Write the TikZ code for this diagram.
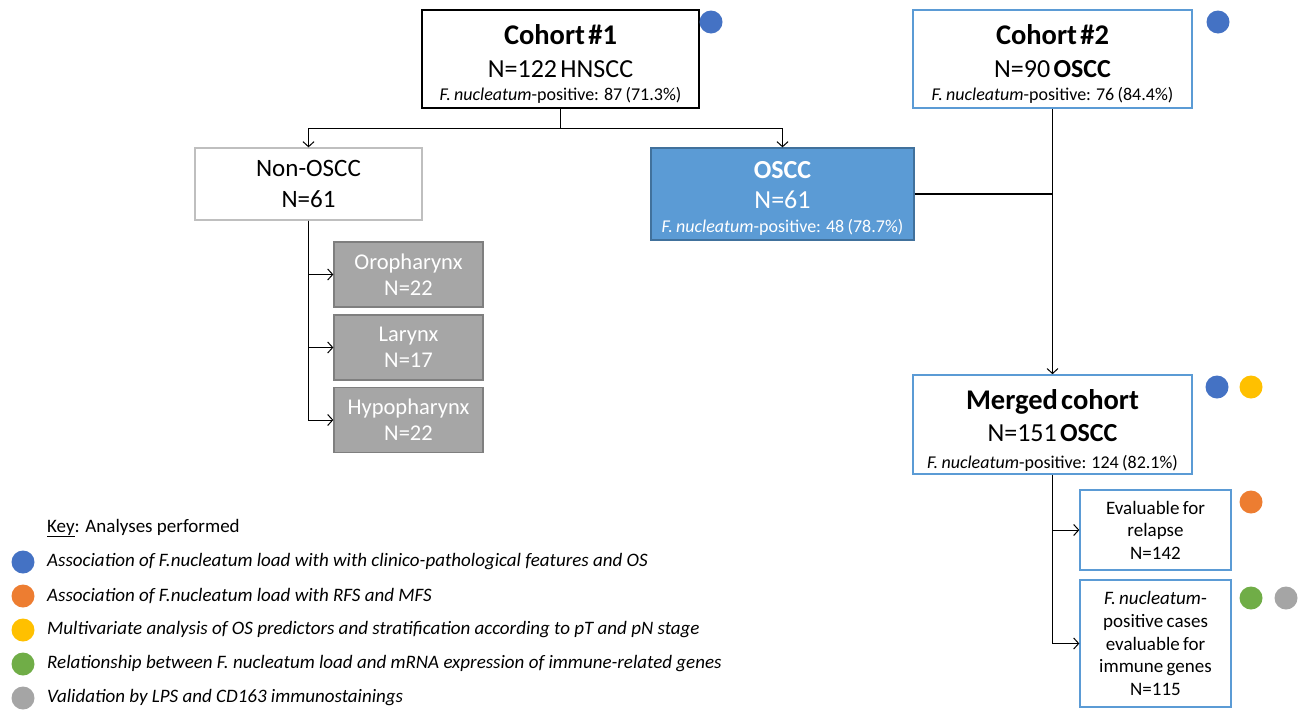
\documentclass[tikz,border=0pt]{standalone}
\usepackage{fontspec}
\setmainfont{Carlito}
\usetikzlibrary{arrows.meta}
\definecolor{dotblue}{HTML}{4472C4}
\definecolor{dotorange}{HTML}{ED7D31}
\definecolor{dotyellow}{HTML}{FFC000}
\definecolor{dotgreen}{HTML}{70AD47}
\definecolor{dotgray}{HTML}{A5A5A5}
\definecolor{lblue}{HTML}{5B9BD5}
\definecolor{oscfill}{HTML}{5B9BD5}
\definecolor{oscdraw}{HTML}{41719C}
\definecolor{greyfill}{HTML}{A6A6A6}
\definecolor{greydraw}{HTML}{7F7F7F}
\definecolor{nongrey}{HTML}{BFBFBF}
\begin{document}
\begin{tikzpicture}[x=1pt,y=-1pt,
  box/.style 2 args={draw, align=center, inner xsep=0pt, inner ysep=0pt,
    text width=#1, minimum height=#2},
  arr/.style={line width=1pt, -{Straight Barb[length=5pt,width=11pt,line width=1pt]}},
  ln/.style={line width=1pt},
  dot/.style={circle, inner sep=0pt, minimum size=23pt},
  keytext/.style={anchor=west, inner sep=0pt, font=\fontsize{19}{22}\selectfont\itshape}
]
\useasboundingbox (0,0) rectangle (1306,710);

% main boxes
\node[box={277pt}{98pt}, line width=1.6pt] (c1) at (560.5,59) {%
  {\fontsize{28.5}{30}\selectfont\bfseries \rule{0pt}{30pt}Cohort \#1\par}%
  {\fontsize{26}{33}\selectfont N=122 HNSCC\par}%
  {\fontsize{18}{23}\selectfont \textit{F. nucleatum}-positive: 87 (71.3\%)\par}};
\node[box={279pt}{98pt}, draw=lblue, line width=1.3pt] (c2) at (1052.5,59) {%
  {\fontsize{28.5}{30}\selectfont\bfseries \rule{0pt}{30pt}Cohort \#2\par}%
  {\fontsize{26}{33}\selectfont N=90 \textbf{OSCC}\par}%
  {\fontsize{18}{23}\selectfont \textit{F. nucleatum}-positive: 76 (84.4\%)\par}};
\node[box={227pt}{72pt}, draw=nongrey, line width=1.3pt] (non) at (308.5,184) {%
  {\fontsize{25}{27}\selectfont Non-OSCC\par}%
  {\fontsize{25}{31}\selectfont N=61\par}};
\node[box={263pt}{92pt}, draw=oscdraw, fill=oscfill, line width=1.3pt, text=white] (oscc) at (782.5,194) {%
  {\fontsize{26}{28}\selectfont\bfseries \rule{0pt}{26pt}OSCC\par}%
  {\fontsize{26}{30}\selectfont N=61\par}%
  {\fontsize{18}{24}\selectfont \textit{F. nucleatum}-positive: 48 (78.7\%)\par}};
\node[box={149pt}{65pt}, draw=greydraw, fill=greyfill, line width=1.3pt, text=white] (oro) at (408.5,274.5) {%
  {\fontsize{22.5}{24}\selectfont Oropharynx\par}%
  {\fontsize{22.5}{26}\selectfont N=22\par}};
\node[box={149pt}{65pt}, draw=greydraw, fill=greyfill, line width=1.3pt, text=white] (lar) at (408.5,347.5) {%
  {\fontsize{22.5}{24}\selectfont Larynx\par}%
  {\fontsize{22.5}{26}\selectfont N=17\par}};
\node[box={149pt}{65pt}, draw=greydraw, fill=greyfill, line width=1.3pt, text=white] (hyp) at (408.5,420) {%
  {\fontsize{22.5}{24}\selectfont Hypopharynx\par}%
  {\fontsize{22.5}{26}\selectfont N=22\par}};
\node[box={279pt}{99pt}, draw=lblue, line width=1.6pt] (mer) at (1052.5,424.5) {%
  {\fontsize{28.5}{30}\selectfont\bfseries \rule{0pt}{31pt}Merged cohort\par}%
  {\fontsize{26}{32}\selectfont N=151 \textbf{OSCC}\par}%
  {\fontsize{18}{27}\selectfont \textit{F. nucleatum}-positive: 124 (82.1\%)\par}};
\node[box={151pt}{80pt}, draw=lblue, line width=1.3pt] (eva) at (1155.5,530) {%
  {\fontsize{19}{22.5}\selectfont Evaluable for\par relapse\par N=142\par}};
\node[box={151pt}{127pt}, draw=lblue, line width=1.3pt] (fnu) at (1155.5,643.5) {%
  {\fontsize{19}{22.7}\selectfont \textit{F. nucleatum}-\par positive cases\par evaluable for\par immune genes\par N=115\par}};

% connectors
\coordinate (j1) at (c1.south |- 0,128);
\draw[ln] (c1.south) -- (j1);
\draw[arr] (j1) -| (non.north);
\draw[arr] (j1) -| (oscc.north);
\draw[arr] (non.south) |- (oro.west);
\draw[arr] (non.south) |- (lar.west);
\draw[arr] (non.south) |- (hyp.west);
\draw[line width=2pt] (oscc.east) -- (oscc.east -| c2.south);
\draw[arr] (c2.south) -- (mer.north);
\draw[arr] (mer.south) |- (eva.west);
\draw[arr] (mer.south) |- (fnu.west);

% analysis dots
\node[dot, fill=dotblue] (d1) at (711,22) {};
\node[dot, fill=dotblue] (d2) at (1218,22) {};
\node[dot, fill=dotblue] (d3) at (1217,387) {};
\node[dot, fill=dotyellow] (d4) at (1251,387) {};
\node[dot, fill=dotorange] (d5) at (1251,502) {};
\node[dot, fill=dotgreen] (d6) at (1251,598) {};
\node[dot, fill=dotgray] (d7) at (1286,598) {};

% key
\node[anchor=west, inner sep=0pt, font=\fontsize{19}{22}\selectfont] (key) at (47,528) {\underline{Key}: Analyses performed};
\node[dot, fill=dotblue] (k1) at (23,562) {};
\node[keytext] (t1) at (47,562) {Association of F.nucleatum load with with clinico-pathological features and OS};
\node[dot, fill=dotorange] (k2) at (23,596) {};
\node[keytext] (t2) at (47,596) {Association of F.nucleatum load with RFS and MFS};
\node[dot, fill=dotyellow] (k3) at (23,630) {};
\node[keytext] (t3) at (47,630) {Multivariate analysis of OS predictors and stratification according to pT and pN stage};
\node[dot, fill=dotgreen] (k4) at (23,664) {};
\node[keytext] (t4) at (47,664) {Relationship between F. nucleatum load and mRNA expression of immune-related genes};
\node[dot, fill=dotgray] (k5) at (23,698) {};
\node[keytext] (t5) at (47,698) {Validation by LPS and CD163 immunostainings};
\end{tikzpicture}
\end{document}
